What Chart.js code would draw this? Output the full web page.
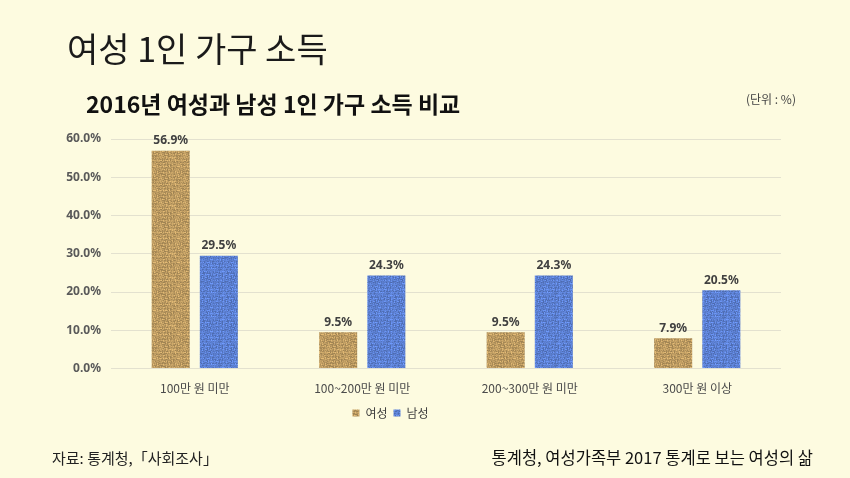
<!DOCTYPE html>
<html><head><meta charset="utf-8">
<script src="https://cdn.jsdelivr.net/npm/chart.js@4/dist/chart.umd.min.js"></script>
<style>
html,body{margin:0;padding:0;background:#fdfbe0;}
#wrap{position:relative;width:850px;height:478px;background:#fdfbe0;font-family:"Noto Sans CJK KR","Noto Sans",sans-serif;}
canvas{position:absolute;left:0;top:0;}
.t{position:absolute;white-space:nowrap;line-height:1;}
</style></head><body>
<div id="wrap">
<canvas id="c" width="850" height="478"></canvas>
<div class="t" style="left:67px;top:31px;font-size:34px;color:#1a1a1a;">여성 1인 가구 소득</div>
<div class="t" style="left:86px;top:92px;font-size:23px;font-weight:bold;color:#111;">2016년 여성과 남성 1인 가구 소득 비교</div>
<div class="t" style="left:746px;top:93px;font-size:12px;color:#444;">(단위 : %)</div>
<div class="t" style="left:52px;top:450px;font-size:15px;color:#222;">자료: 통계청,「사회조사」</div>
<div class="t" style="right:37px;top:449px;font-size:16.5px;color:#111;">통계청, 여성가족부 2017 통계로 보는 여성의 삶</div>
</div>
<script>
const categories = ["100만 원 미만", "100~200만 원 미만", "200~300만 원 미만", "300만 원 이상"];
const femaleValues = [56.9, 9.5, 9.5, 7.9];
const maleValues = [29.5, 24.3, 24.3, 20.5];
const seriesNames = ["여성", "남성"];
const yTicks = [0, 10, 20, 30, 40, 50, 60];

function hash(x, y, s) {
  const v = Math.sin(x * 127.1 + y * 311.7 + s * 74.7) * 43758.5453;
  return v - Math.floor(v);
}
function burlap(r, g, b, amp, seed) {
  const n = 24;
  const c = document.createElement('canvas');
  c.width = n; c.height = n;
  const x2 = c.getContext('2d');
  const img = x2.createImageData(n, n);
  for (let y = 0; y < n; y++) for (let x = 0; x < n; x++) {
    const horiz = ((Math.floor(x / 3) + Math.floor(y / 3)) % 2) === 0;
    const thread = horiz ? (y % 3 === 1 ? 0.35 : -0.2) : (x % 3 === 1 ? 0.35 : -0.2);
    const noise = hash(x, y, seed) - 0.5;
    const f = 1 + amp * (thread + noise * 0.9);
    const i = (y * n + x) * 4;
    img.data[i] = Math.max(0, Math.min(255, r * f));
    img.data[i + 1] = Math.max(0, Math.min(255, g * f));
    img.data[i + 2] = Math.max(0, Math.min(255, b * f));
    img.data[i + 3] = 255;
  }
  x2.putImageData(img, 0, 0);
  return x2.createPattern(c, 'repeat');
}
const ctx = document.getElementById('c').getContext('2d');
const brown = burlap(190, 156, 98, 0.28, 1);
const blue = burlap(92, 128, 210, 0.28, 2);

const labelPlugin = {
  id: 'vals',
  afterDatasetsDraw(chart) {
    const g = chart.ctx;
    g.save();
    g.font = 'bold 12px "Noto Sans", "Noto Sans CJK KR", sans-serif';
    g.fillStyle = '#404040';
    g.textAlign = 'center';
    g.textBaseline = 'bottom';
    chart.data.datasets.forEach((ds, i) => {
      chart.getDatasetMeta(i).data.forEach((bar, j) => {
        g.fillText(ds.data[j].toFixed(1) + '%', bar.x, bar.y - 4);
      });
    });
    g.restore();
  }
};

new Chart(ctx, {
  type: 'bar',
  data: {
    labels: categories,
    datasets: [
      { label: seriesNames[0], data: femaleValues, backgroundColor: brown, borderWidth: 0 },
      { label: seriesNames[1], data: maleValues, backgroundColor: blue, borderWidth: 0 }
    ]
  },
  options: {
    responsive: false,
    animation: false,
    devicePixelRatio: 1,
    layout: { padding: { left: 0, right: 69, top: 139, bottom: 49 } },
    datasets: { bar: { categoryPercentage: 0.575, barPercentage: 0.79 } },
    plugins: {
      legend: {
        position: 'bottom',
        labels: {
          boxWidth: 7, boxHeight: 7, padding: 6,
          color: '#404040',
          font: { size: 12, family: '"Noto Sans CJK KR", sans-serif' }
        }
      },
      tooltip: { enabled: false }
    },
    scales: {
      x: {
        grid: { display: false },
        border: { display: false },
        ticks: { color: '#4a4a4a', font: { size: 12, family: '"Noto Sans CJK KR", sans-serif' }, padding: 5 }
      },
      y: {
        min: 0, max: 60,
        afterFit(s) { s.width = 111; },
        afterBuildTicks(s) { s.ticks = yTicks.map(v => ({ value: v })); },
        grid: { color: '#e3e1cf', drawTicks: false },
        border: { display: false },
        ticks: {
          color: '#595959', padding: 10,
          font: { size: 12, weight: 'bold', family: '"Noto Sans", sans-serif' },
          callback: v => v.toFixed(1) + '%'
        }
      }
    }
  },
  plugins: [labelPlugin]
});
</script>
</body></html>
